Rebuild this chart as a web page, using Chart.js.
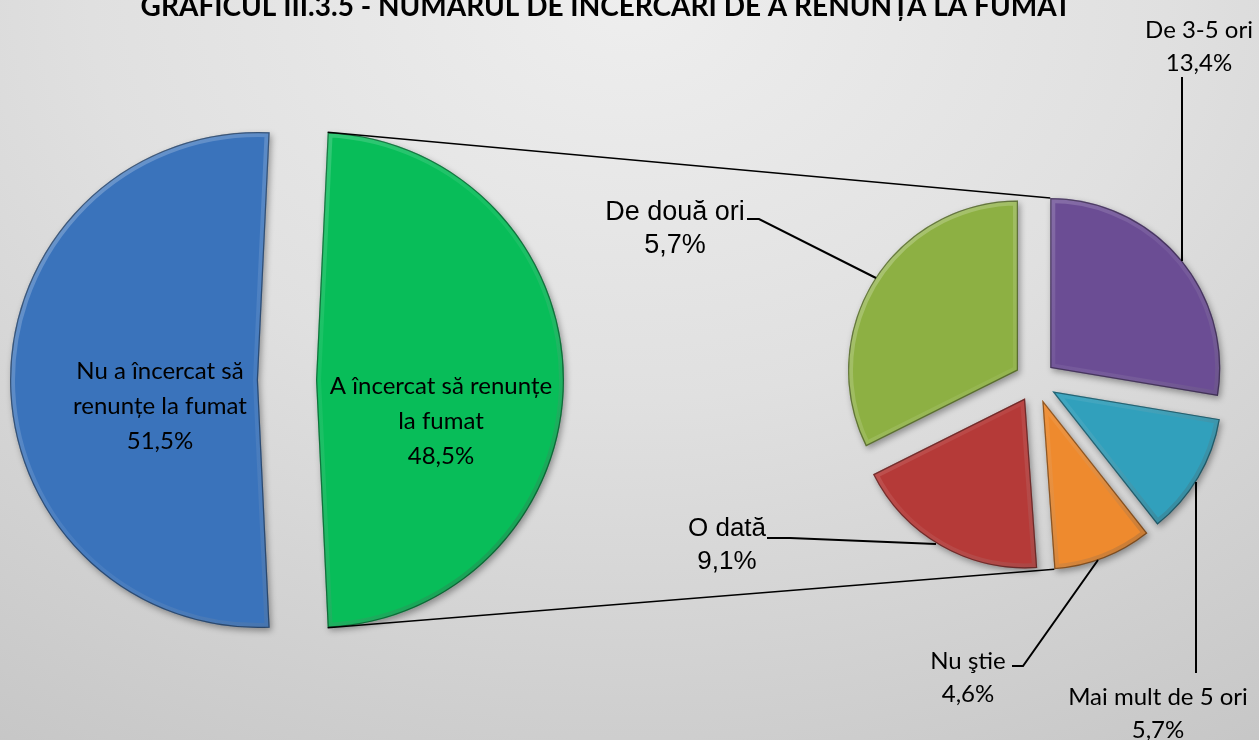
<!DOCTYPE html>
<html><head><meta charset="utf-8">
<script src="https://cdn.jsdelivr.net/npm/chart.js@4.4.1/dist/chart.umd.min.js"></script>
<style>
html,body{margin:0;padding:0;background:#ddd;}
#wrap{position:relative;width:1259px;height:740px;overflow:hidden;
 background:radial-gradient(ellipse 95% 120% at 50% 0%, #eeeeee 0%, #e0e0e0 45%, #c6c6c6 100%);}
canvas{position:absolute;left:0;top:0;}
</style></head><body>
<div id="wrap"><canvas id="c1" width="1259" height="740"></canvas><canvas id="c2" width="1259" height="740"></canvas></div>
<script>
// ---- data ----
const titleText = 'GRAFICUL III.3.5 - NUMĂRUL DE ÎNCERCĂRI DE A RENUNȚA LA FUMAT';
const mainCategories = [['Nu a încercat să', 'renunțe la fumat'], ['A încercat să renunțe', 'la fumat']];
const mainValues = [51.5, 48.5];
const mainPctText = ['51,5%', '48,5%'];
const mainColors = ['#3a73bb', '#08bd59'];

const subCategories = ['De 3-5 ori', 'Mai mult de 5 ori', 'Nu ştie', 'O dată', 'De două ori'];
const subValues = [13.4, 5.7, 4.6, 9.1, 15.7];
const subPctText = ['13,4%', '5,7%', '4,6%', '9,1%', '5,7%'];
const subColors = ['#6b4d94', '#31a0bc', '#ee8a2e', '#b53a38', '#8db043'];

// ---- layout (positions only) ----
const mainExplode = 29, subExplode = 20;
const labelLayout = {
  main: [ {x: 160, y: 371, font: '24px Lato'}, {x: 441, y: 386, font: '24px Lato'} ],
  sub: [
    {x: 1199, y: 30, font: '24px Lato', line: [[1182, 77], [1182, 261]]},
    {x: 1158, y: 697, font: '24px Lato', line: [[1196, 673], [1196, 482]]},
    {x: 968, y: 661, font: '24px Lato', line: [[1012, 666], [1023, 666], [1098, 560]]},
    {x: 727, y: 529, font: '26px "Liberation Sans"', line: [[767, 538], [790, 538], [936, 544]]},
    {x: 675, y: 213, font: '27px "Liberation Sans"', line: [[747, 219], [759, 219], [876, 278]]}
  ],
  lineHeight: 35
};

const ArcProto = Chart.ArcElement.prototype;
const explodePlugin = {
  id: 'explode',
  beforeDatasetsDraw(chart, args, opts) {
    const d = opts.distance || 0;
    chart.getDatasetMeta(0).data.forEach(el => {
      if (el._wrapped) return;
      el._wrapped = true;
      el.draw = function (ctx) {
        const mid = (this.startAngle + this.endAngle) / 2;
        ctx.save();
        ctx.translate(Math.cos(mid) * d, Math.sin(mid) * d);
        ctx.shadowColor = 'rgba(0,0,0,0.35)';
        ctx.shadowBlur = 6; ctx.shadowOffsetX = 2; ctx.shadowOffsetY = 3;
        ArcProto.draw.call(this, ctx);
        ctx.shadowColor = 'transparent';
        const {x, y, outerRadius: R, startAngle: s, endAngle: e} = this;
        ctx.beginPath(); ctx.moveTo(x, y); ctx.arc(x, y, R, s, e); ctx.closePath();
        ctx.clip();
        const g = ctx.createLinearGradient(x - R, y - R, x + R, y + R);
        g.addColorStop(0, 'rgba(255,255,255,0.3)');
        g.addColorStop(0.5, 'rgba(255,255,255,0.06)');
        g.addColorStop(1, 'rgba(0,0,0,0.3)');
        ctx.lineJoin = 'miter';
        ctx.lineWidth = 10; ctx.strokeStyle = g; ctx.stroke();
        ctx.lineWidth = 2.5; ctx.strokeStyle = 'rgba(0,0,0,0.4)'; ctx.stroke();
        ctx.restore();
      };
    });
  }
};
Chart.register(explodePlugin);

const blueDeg = mainValues[0] / (mainValues[0] + mainValues[1]) * 360;
const chart1 = new Chart(document.getElementById('c1'), {
  type: 'pie',
  data: { labels: mainCategories, datasets: [{ data: mainValues, backgroundColor: mainColors, borderWidth: 0 }] },
  options: {
    responsive: false, animation: false, events: [],
    radius: 248, rotation: 90 + 180 - blueDeg / 2,
    layout: { padding: { left: 0, right: 685, top: 20, bottom: 0 } },
    plugins: { legend: { display: false }, tooltip: { enabled: false }, explode: { distance: mainExplode } }
  }
});

function corner(el, ang, d) {
  const mid = (el.startAngle + el.endAngle) / 2;
  return [el.x + Math.cos(mid) * d + Math.cos(ang) * el.outerRadius,
          el.y + Math.sin(mid) * d + Math.sin(ang) * el.outerRadius];
}

const annotPlugin = {
  id: 'annot',
  afterDraw(chart) {
    const ctx = chart.ctx;
    ctx.save();
    // connectors between pies
    const g = chart1.getDatasetMeta(0).data[1];
    const sub = chart.getDatasetMeta(0).data;
    const a1 = corner(g, g.startAngle, mainExplode), b1 = corner(sub[0], sub[0].startAngle, subExplode);
    const a2 = corner(g, g.endAngle, mainExplode), b2 = corner(sub[2], sub[2].endAngle, subExplode);
    ctx.strokeStyle = '#000'; ctx.lineWidth = 1.5;
    ctx.beginPath(); ctx.moveTo(a1[0], a1[1]); ctx.lineTo(b1[0], b1[1]);
    ctx.moveTo(a2[0], a2[1]); ctx.lineTo(b2[0], b2[1]); ctx.stroke();
    // title
    ctx.fillStyle = '#000';
    ctx.textAlign = 'center'; ctx.textBaseline = 'alphabetic';
    ctx.font = 'bold 28px Lato';
    ctx.fillText(titleText, 606, 16);
    ctx.textBaseline = 'middle';
    // main pie labels
    mainCategories.forEach((lines, i) => {
      const L = labelLayout.main[i];
      ctx.font = L.font;
      const all = lines.concat([mainPctText[i]]);
      all.forEach((t, k) => ctx.fillText(t, L.x, L.y + k * labelLayout.lineHeight));
    });
    // sub pie labels + leader lines
    subCategories.forEach((t, i) => {
      const L = labelLayout.sub[i];
      ctx.font = L.font;
      ctx.fillText(t, L.x, L.y);
      ctx.fillText(subPctText[i], L.x, L.y + 33);
      ctx.lineWidth = 2; ctx.beginPath();
      L.line.forEach((p, k) => k ? ctx.lineTo(p[0], p[1]) : ctx.moveTo(p[0], p[1]));
      ctx.stroke();
    });
    ctx.restore();
  }
};

const chart2 = new Chart(document.getElementById('c2'), {
  type: 'pie',
  data: { labels: subCategories, datasets: [{ data: subValues, backgroundColor: subColors, borderWidth: 0 }] },
  options: {
    responsive: false, animation: false, events: [],
    radius: 170, rotation: 0,
    layout: { padding: { left: 811, right: 0, top: 22, bottom: 0 } },
    plugins: { legend: { display: false }, tooltip: { enabled: false }, explode: { distance: subExplode } }
  },
  plugins: [annotPlugin]
});
</script>
</body></html>
